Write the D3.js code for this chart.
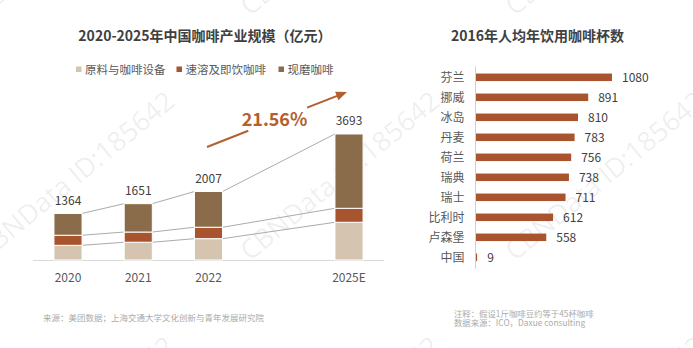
<!DOCTYPE html>
<html><head><meta charset="utf-8">
<script src="https://cdn.jsdelivr.net/npm/d3@7/dist/d3.min.js"></script>
<style>
html,body{margin:0;padding:0;background:#fff;}
svg{display:block;}
text{font-family:"Noto Sans CJK SC","Noto Sans",sans-serif;}
</style></head>
<body>
<script>
// ---------- Data ----------
const years = ["2020", "2021", "2022", "2025E"];
const seriesNames = ["原料与咖啡设备", "速溶及即饮咖啡", "现磨咖啡"];
const rawMaterial = [430, 520, 625, 1105];
const instantCoffee = [295, 300, 335, 410];
const freshCoffee = [639, 831, 1047, 2178];
const totals = [1364, 1651, 2007, 3693];
const cagrLabel = "21.56%";

const countries = ["芬兰", "挪威", "冰岛", "丹麦", "荷兰", "瑞典", "瑞士", "比利时", "卢森堡", "中国"];
const cups = [1080, 891, 810, 783, 756, 738, 711, 612, 558, 9];

const W = 693, H = 348;
const colors = ["#d5c4af", "#a8552f", "#8a6c4a"];
const svg = d3.select("body").append("svg").attr("width", W).attr("height", H);

// ---------- Watermarks ----------
const wm = svg.append("g");
for (let j = -1; j <= 1; j++) {
  for (let k = 0; k <= 2; k++) {
    wm.append("text")
      .attr("transform", `translate(${74 + 265 * k},${175 + 245 * j}) rotate(-39.4)`)
      .attr("text-anchor", "middle").attr("dominant-baseline", "central")
      .style("font-family", "'Open Sans','Liberation Sans',sans-serif")
      .style("font-size", "27px").style("font-weight", 400)
      .attr("fill", "#000").attr("fill-opacity", 0.08)
      .text("CBNData ID:185642");
  }
}

// ---------- Left chart ----------
const L = svg.append("g");
L.append("text").attr("x", 205).attr("y", 41).attr("text-anchor", "middle")
  .style("font-size", "14px").style("font-weight", 700).attr("fill", "#404040")
  .text("2020-2025年中国咖啡产业规模（亿元）");

// legend
const legendX = [76, 176.5, 278.5];
seriesNames.forEach((n, i) => {
  L.append("rect").attr("x", legendX[i]).attr("y", 66.5).attr("width", 5.5).attr("height", 5.5).attr("fill", colors[i]);
  L.append("text").attr("x", legendX[i] + 9).attr("y", 73.8)
    .style("font-size", "11.5px").attr("fill", "#595959").text(n);
});

const slotDomain = [...years.slice(0, 3), "__gap__", years[3]];
const x = d3.scalePoint().domain(slotDomain).range([68, 349]);
const bw = x.step() * 0.4;
const y = d3.scaleLinear().domain([0, 4000]).range([260, 123.5]);

const rows = years.map((yr, i) => ({ year: yr, raw: rawMaterial[i], instant: instantCoffee[i], fresh: freshCoffee[i], total: totals[i] }));
const stack = d3.stack().keys(["raw", "instant", "fresh"])(rows);

// connectors
stack.forEach(layer => {
  for (let i = 0; i < layer.length - 1; i++) {
    const a = layer[i], b = layer[i + 1];
    L.append("line")
      .attr("x1", x(a.data.year) + bw / 2).attr("y1", y(a[1]))
      .attr("x2", x(b.data.year) - bw / 2).attr("y2", y(b[1]))
      .attr("stroke", "#ababab").attr("stroke-width", 1);
  }
});

// axis
L.append("line").attr("x1", 33).attr("x2", 384).attr("y1", y(0) + 0.5).attr("y2", y(0) + 0.5)
  .attr("stroke", "#d9d9d9").attr("stroke-width", 1);

stack.forEach((layer, li) => {
  L.selectAll(null).data(layer).enter().append("rect")
    .attr("x", d => x(d.data.year) - bw / 2)
    .attr("y", d => y(d[1]))
    .attr("width", bw)
    .attr("height", d => y(d[0]) - y(d[1]))
    .attr("fill", colors[li])
    .attr("stroke", "#fff").attr("stroke-width", 1);
});

L.selectAll(null).data(rows).enter().append("text")
  .attr("x", d => x(d.year)).attr("y", d => y(d.total) - 8.5)
  .attr("text-anchor", "middle").style("font-size", "12px").attr("fill", "#404040")
  .text(d => d.total);

L.selectAll(null).data(years).enter().append("text")
  .attr("x", d => x(d)).attr("y", 282)
  .attr("text-anchor", "middle").style("font-size", "12px").attr("fill", "#595959")
  .text(d => d);

// CAGR arrow
const arrowColor = "#b3602f";
const ax0 = 207, ay0 = 147, ax1 = 347, ay1 = 92;
const pt = t => [ax0 + (ax1 - ax0) * t, ay0 + (ay1 - ay0) * t];
const segs = [[0, 0.295], [0.715, 0.93]];
segs.forEach(([t0, t1]) => {
  const p0 = pt(t0), p1 = pt(t1);
  L.append("line").attr("x1", p0[0]).attr("y1", p0[1]).attr("x2", p1[0]).attr("y2", p1[1])
    .attr("stroke", arrowColor).attr("stroke-width", 2);
});
{
  const ang = Math.atan2(ay1 - ay0, ax1 - ax0);
  const len = 11, half = 4.5;
  const bx = ax1 - len * Math.cos(ang), by = ay1 - len * Math.sin(ang);
  const nx = -Math.sin(ang), ny = Math.cos(ang);
  L.append("path").attr("d", `M${ax1},${ay1}L${bx + nx * half},${by + ny * half}L${bx - nx * half},${by - ny * half}Z`)
    .attr("fill", arrowColor);
}
L.append("text").attr("x", 274.5).attr("y", 126).attr("text-anchor", "middle")
  .style("font-size", "18px").style("font-weight", 700).attr("fill", arrowColor)
  .text(cagrLabel);

L.append("text").attr("x", 43).attr("y", 321).style("font-size", "8.5px").attr("fill", "#ababab")
  .text("来源：美团数据；上海交通大学文化创新与青年发展研究院");

// ---------- Right chart ----------
const R = svg.append("g");
R.append("text").attr("x", 537.5).attr("y", 41).attr("text-anchor", "middle")
  .style("font-size", "14px").style("font-weight", 700).attr("fill", "#404040")
  .text("2016年人均年饮用咖啡杯数");

const yb = d3.scaleBand().domain(countries).range([67.3, 267.3]).paddingInner(0.625).paddingOuter(0.3125);
const xr = d3.scaleLinear().domain([0, 1080]).range([476, 612]);

R.append("line").attr("x1", 475.5).attr("x2", 475.5).attr("y1", 66.5).attr("y2", 268.5)
  .attr("stroke", "#d0d0d0").attr("stroke-width", 1);

const data2 = countries.map((c, i) => ({ c, v: cups[i] }));
R.selectAll(null).data(data2).enter().append("rect")
  .attr("x", xr(0)).attr("y", d => yb(d.c))
  .attr("width", d => xr(d.v) - xr(0)).attr("height", yb.bandwidth())
  .attr("fill", "#a8552f");

R.selectAll(null).data(data2).enter().append("text")
  .attr("x", d => xr(d.v) + 10).attr("y", d => yb(d.c) + yb.bandwidth() / 2 + 4.5)
  .style("font-size", "12px").attr("fill", "#404040").text(d => d.v);

R.selectAll(null).data(data2).enter().append("text")
  .attr("x", 464.5).attr("y", d => yb(d.c) + yb.bandwidth() / 2 + 4.5)
  .attr("text-anchor", "end").style("font-size", "12px").attr("fill", "#595959").text(d => d.c);

R.append("text").attr("x", 454).attr("y", 316.5).style("font-size", "8.4px").attr("fill", "#ababab")
  .text("注释：假设1斤咖啡豆约等于45杯咖啡");
R.append("text").attr("x", 454).attr("y", 326).style("font-size", "8.4px").attr("fill", "#ababab")
  .text("数据来源：ICO，Daxue consulting");
</script>
</body></html>
